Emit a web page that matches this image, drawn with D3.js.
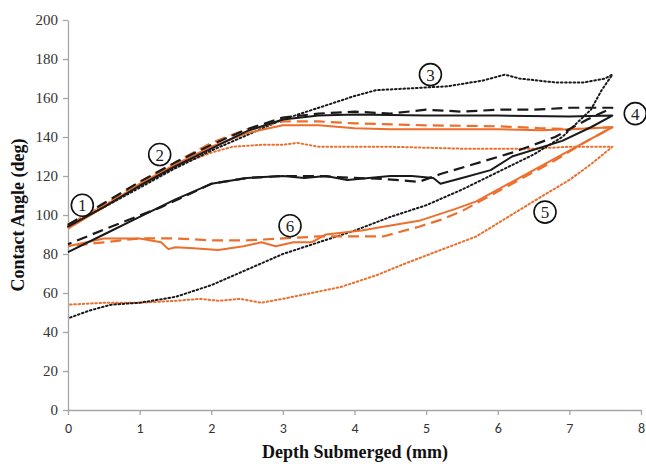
<!DOCTYPE html>
<html>
<head>
<meta charset="utf-8">
<script src="https://cdn.jsdelivr.net/npm/d3@7"></script>
<style>
  body { margin: 0; background: #fff; }
</style>
</head>
<body>
<svg id="chart" width="646" height="464"></svg>
<script>
// axis ticks
const xTicks = [0, 1, 2, 3, 4, 5, 6, 7, 8];
const yTicks = [0, 20, 40, 60, 80, 100, 120, 140, 160, 180, 200];

// each loop: advancing branch (left to right) then receding branch (right to left)
const blackSolid = [
  [0, 94], [0.5, 104], [1, 115], [1.5, 125], [2, 134], [2.5, 143], [3, 149], [3.5, 151],
  [4, 151.5], [5, 151], [6, 151], [7, 150.5], [7.6, 151],
  [7.3, 145], [6.9, 138], [6.2, 130], [5.9, 123], [5.5, 119], [5.2, 116], [5.1, 119],
  [4.8, 120], [4.5, 120], [4.2, 119], [3.9, 118], [3.6, 120], [3.3, 119], [3, 120],
  [2.5, 119], [2, 116], [1.5, 108], [1, 99], [0.5, 90], [0, 81],
];
const blackDashed = [
  [0, 95], [0.5, 106], [1, 117], [1.5, 127], [2, 136], [2.5, 144], [3, 150], [3.5, 152],
  [4, 153], [4.5, 152], [5, 154], [5.5, 153], [6, 154], [6.5, 154], [7, 155], [7.6, 155],
  [7.25, 149], [6.8, 140], [6.2, 132], [5.75, 127], [5.2, 121], [4.9, 117], [4.4, 118.5],
  [4, 119], [3.5, 120], [3, 120], [2.5, 119], [2, 116], [1.3, 104], [0.6, 94], [0, 85],
];
const blackDotted = [
  [0, 94], [0.5, 104], [1, 114], [1.5, 124], [2, 133], [2.5, 141], [3, 149], [3.5, 155],
  [4, 161], [4.3, 164], [4.8, 165], [5.3, 166], [5.8, 169], [6.1, 172], [6.3, 170],
  [6.8, 168], [7.2, 168], [7.5, 170], [7.6, 172],
  [7.45, 164], [7.3, 154], [6.9, 140], [6.5, 131], [6, 122], [5.5, 113], [5, 105],
  [4.5, 99], [4, 92], [3.5, 86], [3, 80], [2.5, 72], [2, 64], [1.5, 58], [1, 55],
  [0.6, 54], [0.3, 51], [0, 47],
];
const orangeSolid = [
  [0, 93], [0.5, 104], [1, 116], [1.5, 126], [2, 135], [2.5, 142], [3, 146], [3.5, 146],
  [4, 144.5], [4.5, 144], [5, 144], [5.5, 144], [6, 144], [6.6, 143.5], [7, 144], [7.6, 145],
  [7, 133], [6.5, 123], [6, 113], [5.7, 107], [5.4, 103], [4.9, 97], [4.4, 94], [4.1, 92],
  [3.85, 91], [3.6, 90], [3.4, 86], [3.15, 86], [2.9, 84], [2.7, 86], [2.45, 84],
  [2.1, 82], [1.75, 83], [1.5, 83.5], [1.4, 82.5], [1.3, 86], [1, 88], [0.5, 88], [0, 84],
];
const orangeDashed = [
  [0, 94], [0.5, 105], [1, 117], [1.5, 127], [2, 137], [2.5, 144], [3, 148], [3.5, 148],
  [4, 147], [5, 146], [6, 145.5], [6.6, 144.5], [7, 144], [7.6, 145],
  [7.2, 137], [6.8, 128], [6.3, 118], [5.8, 108], [5.5, 102], [5.2, 97.5], [4.9, 94],
  [4.4, 89], [4, 89], [3.5, 89], [3, 88], [2.5, 87], [2, 87], [1.5, 88], [1, 88],
  [0.5, 86], [0, 84],
];
const orangeDotted = [
  [0, 95], [0.5, 105], [1, 115], [1.5, 125], [2, 132], [2.3, 135], [2.7, 136], [3, 136],
  [3.2, 137], [3.5, 135], [4, 135], [4.5, 135], [5, 134.5], [5.5, 134], [6, 134],
  [6.5, 134], [7, 135], [7.6, 135],
  [7.3, 126], [7, 118], [6.5, 107], [6.1, 98], [5.7, 89], [5.2, 82], [4.7, 75], [4.3, 69],
  [3.8, 63], [3.4, 60], [3, 57], [2.7, 55], [2.4, 57], [2.1, 56], [1.85, 57], [1.5, 56],
  [1, 55], [0.5, 55], [0, 54],
];

// circled curve numbers
const labelText = ["1", "2", "3", "4", "5", "6"];
const labelX = [0.2, 1.28, 5.06, 7.92, 6.66, 3.1];
const labelY = [105, 131, 172, 152, 101.5, 94.5];

const orange = "#ec6f2d";
const black = "#1a1a1a";
const series = [
  { data: orangeDotted, color: orange, dash: "1.6,2.6", width: 2 },
  { data: blackDotted, color: black, dash: "1.6,2.6", width: 2 },
  { data: orangeDashed, color: orange, dash: "11,6", width: 2.2 },
  { data: orangeSolid, color: orange, dash: null, width: 2 },
  { data: blackDashed, color: black, dash: "11,6", width: 2.2 },
  { data: blackSolid, color: black, dash: null, width: 2 },
];

const svg = d3.select("#chart");
const x = d3.scaleLinear().domain([0, 8]).range([68, 641]);
const y = d3.scaleLinear().domain([0, 200]).range([410, 20]);

// axes
const xAxis = svg.append("g")
  .attr("transform", `translate(0,${y(0)})`)
  .call(d3.axisBottom(x).tickValues(xTicks).tickSize(5).tickPadding(8).tickSizeOuter(0));
const yAxis = svg.append("g")
  .attr("transform", `translate(${x(0)},0)`)
  .call(d3.axisLeft(y).tickValues(yTicks).tickSize(5).tickPadding(5).tickSizeOuter(0));

[xAxis, yAxis].forEach((g) => {
  g.select(".domain").attr("stroke", "#a6a6a6").attr("stroke-width", 1.3);
  g.selectAll(".tick line").attr("stroke", "#a6a6a6").attr("stroke-width", 1.3);
  g.selectAll(".tick text").attr("fill", "#333");
});
xAxis.selectAll(".tick text")
  .style("font-family", "Carlito, 'Liberation Sans', sans-serif")
  .style("font-size", "14px");
yAxis.selectAll(".tick text")
  .style("font-family", "'Liberation Serif', 'Times New Roman', serif")
  .style("font-size", "15px");

// curves
const line = d3.line().x((d) => x(d[0])).y((d) => y(d[1])).curve(d3.curveLinear);
svg.append("g")
  .selectAll("path")
  .data(series)
  .join("path")
  .attr("d", (d) => line(d.data))
  .attr("fill", "none")
  .attr("stroke", (d) => d.color)
  .attr("stroke-width", (d) => d.width)
  .attr("stroke-dasharray", (d) => d.dash)
  .attr("stroke-linejoin", "round")
  .attr("stroke-linecap", (d) => (d.dash && d.dash.startsWith("1.6") ? "round" : "butt"));

// circled labels
const labels = svg.append("g")
  .selectAll("g")
  .data(labelText)
  .join("g")
  .attr("transform", (d, i) => `translate(${x(labelX[i])},${y(labelY[i])})`);
labels.append("circle")
  .attr("r", 11)
  .attr("fill", "#fff")
  .attr("stroke", "#111")
  .attr("stroke-width", 1.6);
labels.append("text")
  .text((d) => d)
  .attr("text-anchor", "middle")
  .attr("dy", 6)
  .style("font-family", "'Liberation Serif', serif")
  .style("font-size", "17px")
  .attr("fill", "#222");

// axis titles
svg.append("text")
  .text("Depth Submerged (mm)")
  .attr("x", 355)
  .attr("y", 458)
  .attr("text-anchor", "middle")
  .style("font-family", "'Liberation Serif', serif")
  .style("font-weight", "bold")
  .style("font-size", "18px")
  .attr("fill", "#111");
svg.append("text")
  .text("Contact Angle (deg)")
  .attr("transform", "translate(24,215) rotate(-90)")
  .attr("text-anchor", "middle")
  .style("font-family", "'Liberation Serif', serif")
  .style("font-weight", "bold")
  .style("font-size", "18px")
  .attr("fill", "#111");
</script>
</body>
</html>
